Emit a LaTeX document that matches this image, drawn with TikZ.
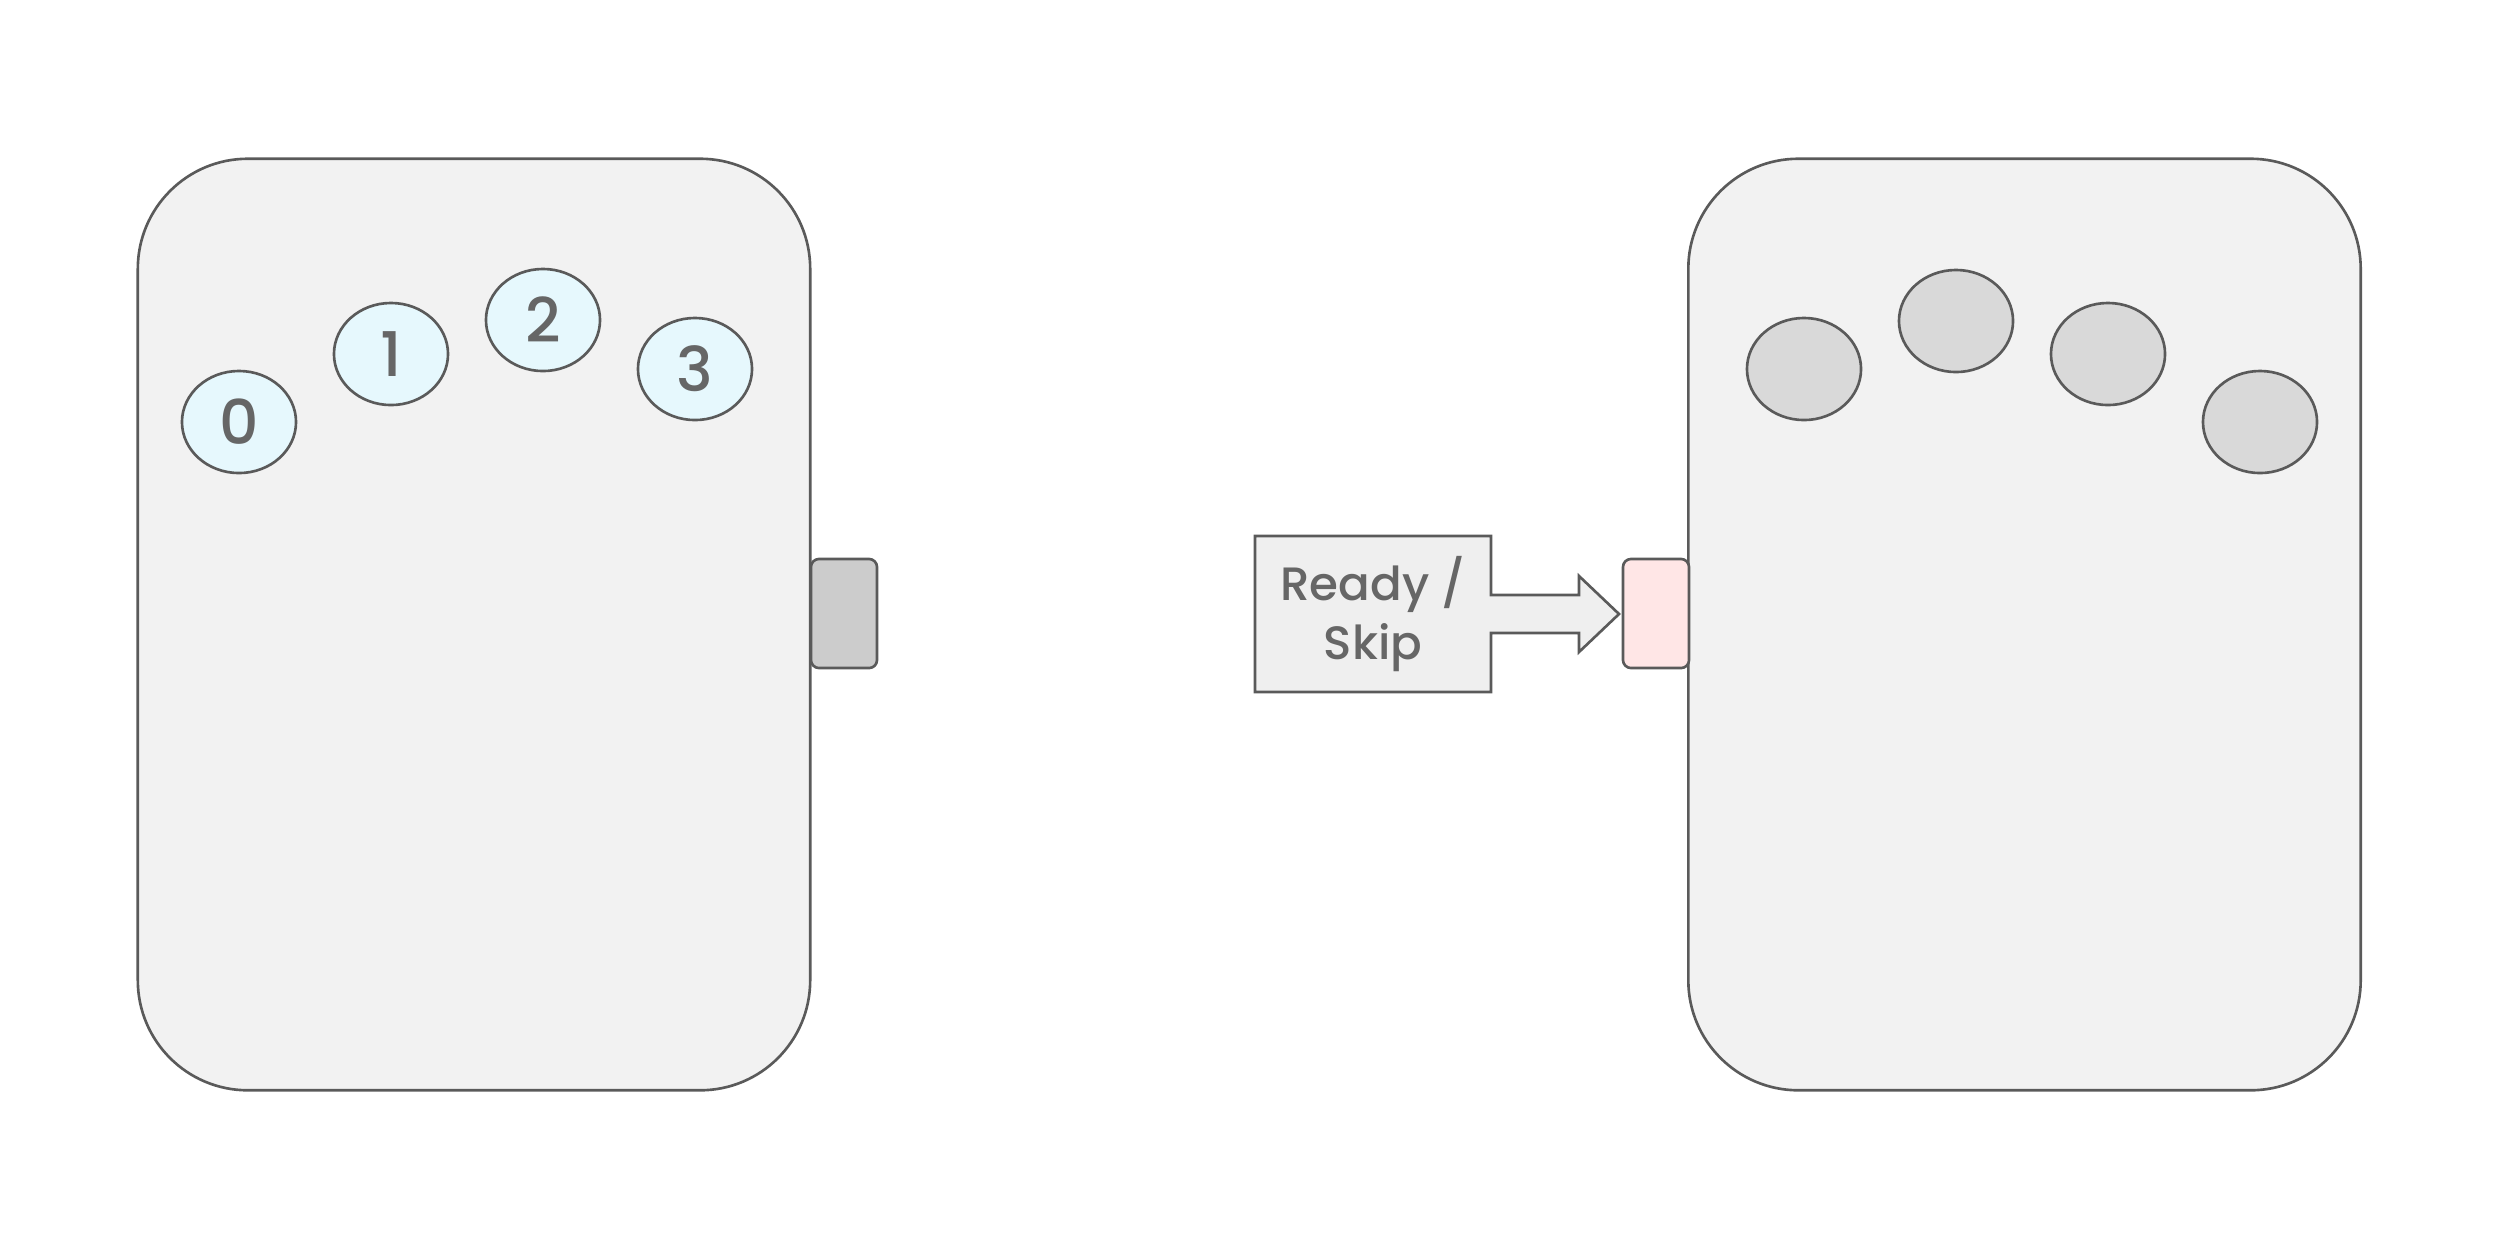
\documentclass[tikz,border=0pt]{standalone}
\usepackage{fontspec}
\setmainfont{Poppins Medium}
\definecolor{edge}{HTML}{5A5A5A}
\definecolor{boxfill}{HTML}{F2F2F2}
\definecolor{cyanfill}{HTML}{E6F8FD}
\definecolor{grayfill}{HTML}{D9D9D9}
\definecolor{tabgray}{HTML}{CCCCCC}
\definecolor{tabpink}{HTML}{FFE6E6}
\definecolor{arrowfill}{HTML}{EFEFEF}
\definecolor{txt}{HTML}{666666}
\tikzset{
  panel/.style={draw=edge, fill=boxfill, line width=0.75pt, rounded corners=1.1cm,
    minimum width=6.72cm, minimum height=9.31cm, inner sep=0pt},
  ball/.style={draw=edge, line width=0.75pt, ellipse, minimum width=1.14cm, minimum height=1.02cm,
    inner sep=0pt, text=txt, font=\fontsize{17.5}{20}\selectfont},
  tab/.style={draw=edge, line width=0.75pt, rounded corners=0.08cm,
    minimum width=0.66cm, minimum height=1.09cm, inner sep=0pt},
  callout/.style={draw=edge, fill=arrowfill, line width=0.75pt, line join=miter},
}
\usetikzlibrary{shapes.geometric}
\begin{document}
\begin{tikzpicture}[x=0.01cm, y=-0.01cm]
\useasboundingbox (0,0) rectangle (2500,1250);
% panels
\node[panel] (L) at (474,624.5) {};
\node[panel] (R) at (2024.5,624.5) {};
% left balls
\node[ball, fill=cyanfill] (b0) at (239,422) {0};
\node[ball, fill=cyanfill] (b1) at (391,354) {1};
\node[ball, fill=cyanfill] (b2) at (543,320) {2};
\node[ball, fill=cyanfill] (b3) at (695,369) {3};
% right balls
\node[ball, fill=grayfill] (c0) at (1804,369) {};
\node[ball, fill=grayfill] (c1) at (1956,321) {};
\node[ball, fill=grayfill] (c2) at (2108,354) {};
\node[ball, fill=grayfill] (c3) at (2260,422) {};
% tabs
\node[tab, fill=tabgray] (tg) at (844,613.5) {};
\node[tab, fill=tabpink] (tp) at (1656,613.5) {};
% callout arrow
\draw[callout] (1255,536) -- (1491,536) -- (1491,595) -- (1579,595) -- (1579,576)
  -- (1619,614) -- (1579,652) -- (1579,633) -- (1491,633) -- (1491,692) -- (1255,692) -- cycle;
\node[text=txt, align=center, font=\fontsize{13.3}{17}\selectfont] (lbl) at (1373,614) {Ready /\\Skip};
\end{tikzpicture}
\end{document}
